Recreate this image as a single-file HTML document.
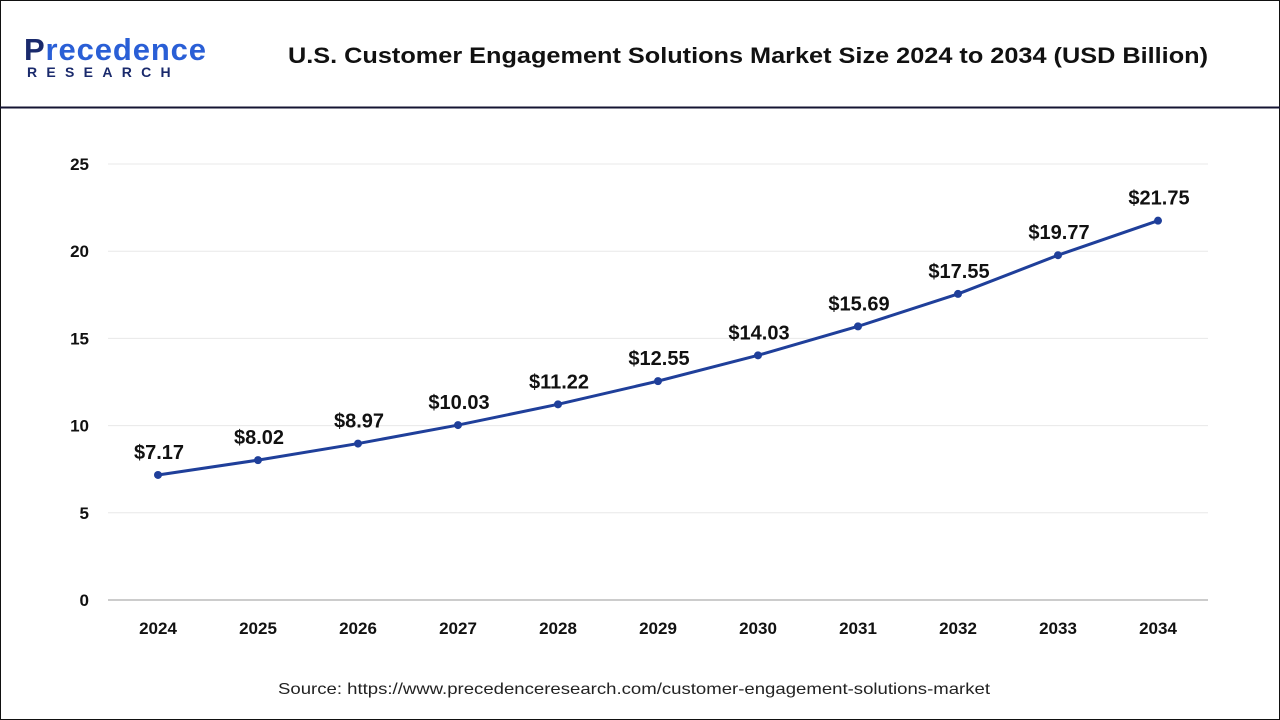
<!DOCTYPE html>
<html><head><meta charset="utf-8"><style>
body{margin:0;width:1280px;height:720px;overflow:hidden;background:#fff;font-family:"Liberation Sans",Arial,sans-serif}
svg{display:block}
</style></head><body>
<svg id="c" width="1280" height="720">
<rect x="0.5" y="0.5" width="1279" height="719" fill="#fff" stroke="#111"/>
<line x1="0" y1="107.5" x2="1280" y2="107.5" stroke="#141433" stroke-width="2"/>
<g>
<text x="24" y="60" font-size="31" font-weight="bold" fill="#1a2a6c" textLength="182">P<tspan fill="#2a5fd6">recedence</tspan></text>
<text x="27" y="77" font-size="14" font-weight="bold" fill="#1a2a6c" letter-spacing="9.3">RESEARCH</text>
</g>
<text x="288" y="63" font-size="22" font-weight="bold" fill="#111" textLength="920" lengthAdjust="spacingAndGlyphs">U.S. Customer Engagement Solutions Market Size 2024 to 2034 (USD Billion)</text>
<g id="grid"></g><g id="yt"></g><g id="xt"></g><g id="series"></g>
<text x="278" y="694" font-size="16" fill="#222" textLength="712" lengthAdjust="spacingAndGlyphs">Source: https://www.precedenceresearch.com/customer-engagement-solutions-market</text>
</svg>
<script>
const years=["2024","2025","2026","2027","2028","2029","2030","2031","2032","2033","2034"];
const values=[7.17,8.02,8.97,10.03,11.22,12.55,14.03,15.69,17.55,19.77,21.75];
const valueLabels=["$7.17","$8.02","$8.97","$10.03","$11.22","$12.55","$14.03","$15.69","$17.55","$19.77","$21.75"];
const yTicks=[0,5,10,15,20,25];
const NS="http://www.w3.org/2000/svg";
const X0=108,X1=1208,Y0=600,Y1=164,YMAX=25;
const xs=i=>X0+(X1-X0)/years.length*(i+0.5);
const ys=v=>Y0-(Y0-Y1)*v/YMAX;
function mk(t,a,p){const e=document.createElementNS(NS,t);for(const k in a)e.setAttribute(k,a[k]);p.appendChild(e);return e;}
const grid=document.getElementById('grid'),yt=document.getElementById('yt'),xt=document.getElementById('xt'),se=document.getElementById('series');
yTicks.forEach(t=>{
 const l=mk('line',{x1:X0,x2:X1,y1:ys(t),y2:ys(t),stroke:t===0?'#999':'#e8e8e8','stroke-width':1},grid);
 
 
 const tx=mk('text',{x:89,y:ys(t)+6,'font-size':17,'font-weight':'bold','text-anchor':'end',fill:'#111'},yt);
 tx.textContent=t;
 
 
});
years.forEach((y,i)=>{
 const tx=mk('text',{x:xs(i),y:634,'font-size':17,'font-weight':'bold','text-anchor':'middle',fill:'#111'},xt);
 tx.textContent=y;
 
 
});
const pl=mk('polyline',{points:values.map((v,i)=>xs(i)+','+ys(v)).join(' '),fill:'none',stroke:'#1f3f9a','stroke-width':3},se);


values.forEach((v,i)=>{
 const c=mk('circle',{cx:xs(i),cy:ys(v),r:4,fill:'#1f3f9a'},se);
 
 
 const t=mk('text',{x:xs(i)+1,y:ys(v)-16,'font-size':20,'font-weight':'bold','text-anchor':'middle',fill:'#111'},se);
 t.textContent=valueLabels[i];
 
 
});
</script>
</body></html>
